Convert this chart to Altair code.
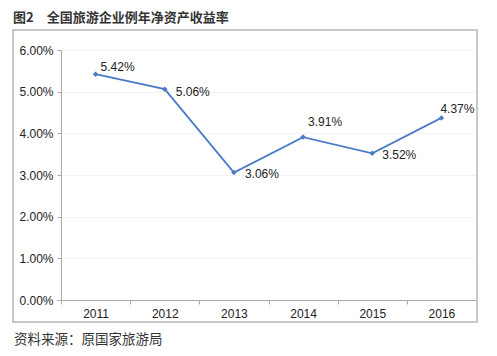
import altair as alt
import pandas as pd

years = ["2011", "2012", "2013", "2014", "2015", "2016"]
roe = [0.0542, 0.0506, 0.0306, 0.0391, 0.0352, 0.0437]
labels = ["5.42%", "5.06%", "3.06%", "3.91%", "3.52%", "4.37%"]

title_text = "图2\u2003全国旅游企业例年净资产收益率"
source_text = "资料来源：原国家旅游局"

df = pd.DataFrame({"year": years, "roe": roe, "label": labels})

W, H = 415, 250
BLUE = "#4a7cc6"
FONT = "Liberation Sans"

# label offsets (styling)
offsets = {
    "2011": (5, -7),
    "2012": (11, 3),
    "2013": (11, 1),
    "2014": (5, -15),
    "2015": (10, 2),
    "2016": (-1, -9),
}

x_enc = alt.X(
    "year:N",
    title=None,
    scale=alt.Scale(paddingInner=0, paddingOuter=0),
    axis=alt.Axis(
        labelAngle=0,
        tickBand="extent",
        domainColor="#aaaaaa",
        tickColor="#aaaaaa",
        tickSize=4,
        labelFont=FONT,
        labelFontSize=12,
        labelColor="#222222",
        labelPadding=4,
        grid=False,
    ),
)
y_enc = alt.Y(
    "roe:Q",
    title=None,
    scale=alt.Scale(domain=[0, 0.06], nice=False),
    axis=alt.Axis(
        values=[0, 0.01, 0.02, 0.03, 0.04, 0.05, 0.06],
        format=".2%",
        domainColor="#aaaaaa",
        tickColor="#aaaaaa",
        tickSize=4,
        labelFont=FONT,
        labelFontSize=12,
        labelColor="#222222",
        labelPadding=4,
        gridColor="#f2f2f2",
    ),
)

base = alt.Chart(df)

frame = alt.Chart(df).mark_rect(
    fill=None, stroke="#c8c8c8", strokeWidth=2
).encode(
    x=alt.value(-48), x2=alt.value(W + 1), y=alt.value(-20), y2=alt.value(H + 22)
).transform_filter(alt.datum.year == "2011")

line = base.mark_line(color=BLUE, strokeWidth=1.8).encode(x=x_enc, y=y_enc)
pts = base.mark_point(
    shape="diamond", filled=True, color=BLUE, size=30, opacity=1
).encode(x="year:N", y="roe:Q")

texts = []
for yr, (dx, dy) in offsets.items():
    texts.append(
        base.transform_filter(alt.datum.year == yr)
        .mark_text(align="left", baseline="middle", dx=dx, dy=dy,
                   font=FONT, fontSize=12, color="#222222")
        .encode(x="year:N", y="roe:Q", text="label:N")
    )

title = alt.Chart(df).transform_filter(alt.datum.year == "2011").mark_text(
    align="left", baseline="middle", font="Noto Sans CJK SC", fontSize=13,
    fontWeight="bold", color="#333333"
).encode(x=alt.value(-48), y=alt.value(-32), text=alt.value(title_text))

source = alt.Chart(df).transform_filter(alt.datum.year == "2011").mark_text(
    align="left", baseline="middle", font="Noto Sans CJK SC", fontSize=13.5,
    color="#333333"
).encode(x=alt.value(-47), y=alt.value(H + 40), text=alt.value(source_text))

chart = alt.layer(frame, line, pts, *texts, title, source).properties(
    width=W,
    height=H,
    autosize=alt.AutoSizeParams(type="none"),
    padding={"left": 53, "top": 42, "right": 13, "bottom": 48},
).configure_view(stroke=None).configure(background="white")

chart.save("out.html", embed_options={"renderer": "svg", "actions": False})
